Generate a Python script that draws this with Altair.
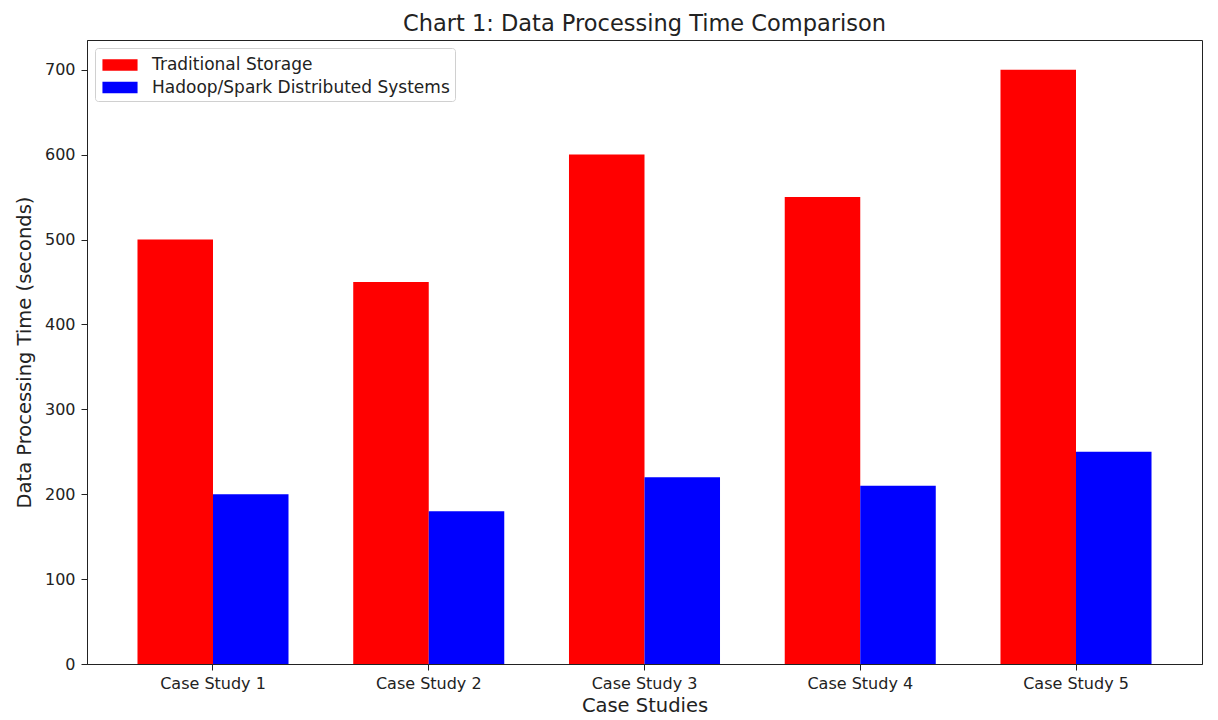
import altair as alt
import pandas as pd

cases = ["Case Study 1", "Case Study 2", "Case Study 3", "Case Study 4", "Case Study 5"]
traditional = [500, 450, 600, 550, 700]
hadoop = [200, 180, 220, 210, 250]
series = ["Traditional Storage", "Hadoop/Spark Distributed Systems"]
colors = ["#ff0000", "#0000ff"]

rows = []
for c, t, h in zip(cases, traditional, hadoop):
    rows.append({"case": c, "series": series[0], "value": t})
    rows.append({"case": c, "series": series[1], "value": h})
df = pd.DataFrame(rows)

font = "DejaVu Sans"

chart = alt.Chart(df).mark_bar().encode(
    x=alt.X("case:N", sort=cases, title="Case Studies",
            scale=alt.Scale(paddingInner=0.3, paddingOuter=0.234),
            axis=alt.Axis(labelAngle=0, labelFontSize=16, titleFontSize=19.5,
                          titleFontWeight="normal",
                          labelColor="#222", titleColor="#222", tickColor="#222",
                          domainColor="#222", tickSize=6, labelPadding=5, titlePadding=5)),
    xOffset=alt.XOffset("series:N", sort=series),
    y=alt.Y("value:Q", title="Data Processing Time (seconds)",
            scale=alt.Scale(domain=[0, 735], nice=False),
            axis=alt.Axis(values=[0, 100, 200, 300, 400, 500, 600, 700], grid=False,
                          labelFontSize=16, titleFontSize=19.5, titleFontWeight="normal",
                          labelColor="#222",
                          titleColor="#222", tickColor="#222", domainColor="#222",
                          tickSize=6, labelPadding=6, titlePadding=10)),
    color=alt.Color("series:N", sort=series,
                    scale=alt.Scale(domain=series, range=colors),
                    legend=alt.Legend(title=None, orient="top-left", offset=8,
                                      symbolType="M-1.5,-0.5H1.5V0.5H-1.5Z", symbolSize=548,
                                      symbolStrokeWidth=0, symbolOffset=8,
                                      labelFontSize=17, labelLimit=500,
                                      labelColor="#222", rowPadding=2.5,
                                      padding=5, strokeColor="#d0d0d0",
                                      fillColor="white", cornerRadius=3,
                                      labelOffset=20)),
).properties(
    width=1115,
    height=624,
    padding={"left": 6, "top": 4, "right": 5, "bottom": 5},
    title=alt.TitleParams("Chart 1: Data Processing Time Comparison", fontSize=22.5,
                          fontWeight="normal", color="#222", offset=5),
).configure(font=font).configure_view(stroke="#222", strokeWidth=1)

chart.save("out.html", embed_options={"renderer": "svg", "actions": False})
